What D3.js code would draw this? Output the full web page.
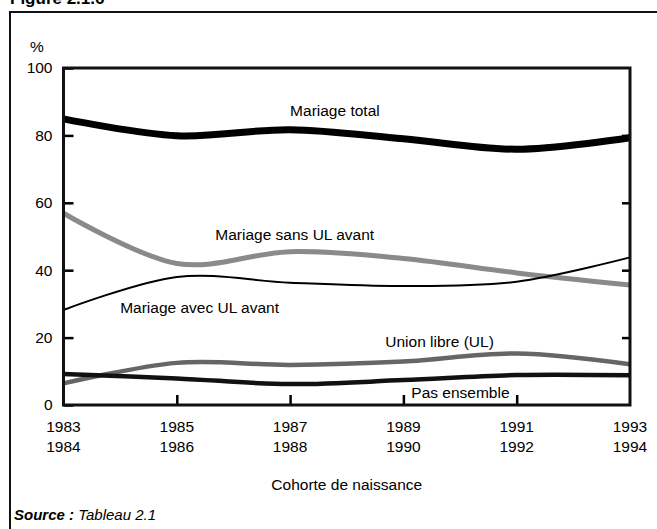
<!DOCTYPE html>
<html lang="fr">
<head>
<meta charset="utf-8">
<script src="https://cdn.jsdelivr.net/npm/d3@7"></script>
<style>
  html, body { margin: 0; padding: 0; background: #fff; }
  svg { display: block; font-family: "Liberation Sans", Arial, sans-serif; }
</style>
</head>
<body>
<div id="graphique"></div>
<script>
"use strict";

// données : cohortes de naissance (paires d'années)
var cohortes = [["1983", "1984"], ["1985", "1986"], ["1987", "1988"],
                ["1989", "1990"], ["1991", "1992"], ["1993", "1994"]];
var graduations = [0, 20, 40, 60, 80, 100];

var mariageTotal = [84.9, 79.9, 81.7, 79.0, 75.9, 79.3];
var mariageSansUL = [56.9, 42.0, 45.5, 43.5, 39.2, 35.6];
var mariageAvecUL = [28.2, 38.0, 36.3, 35.3, 36.6, 43.8];
var unionLibre = [6.4, 12.5, 11.9, 12.9, 15.3, 12.1];
var pasEnsemble = [9.2, 7.9, 6.2, 7.4, 8.9, 8.8];

var series = [
  { nom: "Mariage sans UL avant", valeurs: mariageSansUL, couleur: "#8a8a8a", epaisseur: 5 },
  { nom: "Mariage avec UL avant", valeurs: mariageAvecUL, couleur: "#000", epaisseur: 2 },
  { nom: "Union libre (UL)", valeurs: unionLibre, couleur: "#666", epaisseur: 4.5 },
  { nom: "Pas ensemble", valeurs: pasEnsemble, couleur: "#111", epaisseur: 4.5 },
  { nom: "Mariage total", valeurs: mariageTotal, couleur: "#000", epaisseur: 7 }
];

// étiquettes posées dans le repère des données (indice de cohorte, %)
var etiquettes = [
  { texte: "Mariage total", i: 2.0, v: 87.5 },
  { texte: "Mariage sans UL avant", i: 1.34, v: 50.7 },
  { texte: "Mariage avec UL avant", i: 0.5, v: 28.8 },
  { texte: "Union libre (UL)", i: 2.84, v: 18.8 },
  { texte: "Pas ensemble", i: 3.07, v: 3.6 }
];

var largeur = 657, hauteur = 529;
var marges = { top: 68, right: 27, bottom: 124, left: 63.5 };
var droite = largeur - marges.right, bas = hauteur - marges.bottom;

var svg = d3.select("#graphique").append("svg")
  .attr("width", largeur)
  .attr("height", hauteur)
  .attr("viewBox", "0 0 " + largeur + " " + hauteur);

var x = d3.scaleLinear().domain([0, cohortes.length - 1]).range([marges.left, droite]);
var y = d3.scaleLinear().domain([0, 100]).range([bas, marges.top]);

// titre (coupé en haut de page) et cadre extérieur
svg.append("text")
  .attr("x", 10).attr("y", 3.5)
  .attr("font-size", 17).attr("font-weight", "bold")
  .text("Figure 2.1.6");

svg.append("rect")
  .attr("x", 10).attr("y", 12)
  .attr("width", 660).attr("height", 540)
  .attr("fill", "none").attr("stroke", "#111").attr("stroke-width", 2);

// axes : on retire la police imposée par d3.axis
var nettoyer = g => g.attr("font-size", null).attr("font-family", null)
  .call(g => g.select(".domain").remove())
  .call(g => g.selectAll("line").attr("stroke", "#000").attr("stroke-width", 2.5))
  .call(g => g.selectAll("text").attr("fill", "#000"));

var gAxes = svg.append("g").attr("class", "axes").attr("font-size", 15.5);

gAxes.append("g")
  .attr("transform", "translate(" + marges.left + ",0)")
  .call(d3.axisLeft(y).tickValues(graduations).tickSize(-10).tickPadding(11))
  .call(nettoyer);

gAxes.append("g")
  .attr("transform", "translate(" + droite + ",0)")
  .call(d3.axisRight(y).tickValues(graduations.slice(1, -1)).tickSize(-8).tickFormat(""))
  .call(nettoyer);

gAxes.append("g")
  .attr("transform", "translate(0," + bas + ")")
  .call(d3.axisBottom(x).tickValues(d3.range(1, cohortes.length - 1)).tickSize(-10).tickFormat(""))
  .call(nettoyer);

// étiquettes de l'axe X sur deux lignes
var cadastre = gAxes.append("g").selectAll("text")
  .data(cohortes)
  .enter()
    .append("text")
    .attr("text-anchor", "middle")
    .attr("x", (d, i) => x(i));
cadastre.append("tspan").attr("y", bas + 27).text(d => d[0]);
cadastre.append("tspan").attr("x", (d, i) => x(i)).attr("y", bas + 47).text(d => d[1]);

gAxes.append("text")
  .attr("x", 30).attr("y", 52)
  .text("%");

gAxes.append("text")
  .attr("x", (marges.left + droite) / 2).attr("y", bas + 85)
  .attr("text-anchor", "middle")
  .text("Cohorte de naissance");

// les courbes lissées
var trace = d3.line()
  .x((d, i) => x(i))
  .y(d => y(d))
  .curve(d3.curveCatmullRom.alpha(0));

svg.append("g").attr("class", "courbes")
  .selectAll("path")
  .data(series)
  .enter()
    .append("path")
    .attr("d", d => trace(d.valeurs))
    .attr("fill", "none")
    .attr("stroke", d => d.couleur)
    .attr("stroke-width", d => d.epaisseur);

svg.append("g").attr("class", "etiquettes")
  .attr("font-size", 15.5)
  .selectAll("text")
  .data(etiquettes)
  .enter()
    .append("text")
    .attr("x", d => x(d.i))
    .attr("y", d => y(d.v))
    .attr("dy", "0.35em")
    .text(d => d.texte);

// cadre de la zone de tracé
svg.append("rect")
  .attr("x", marges.left).attr("y", marges.top)
  .attr("width", droite - marges.left).attr("height", bas - marges.top)
  .attr("fill", "none").attr("stroke", "#111").attr("stroke-width", 3);

// source
var source = svg.append("text")
  .attr("x", 14).attr("y", 520)
  .attr("font-size", 15)
  .attr("font-style", "italic");
source.append("tspan").attr("font-weight", "bold").text("Source :");
source.append("tspan").text(" Tableau 2.1");
</script>
</body>
</html>
